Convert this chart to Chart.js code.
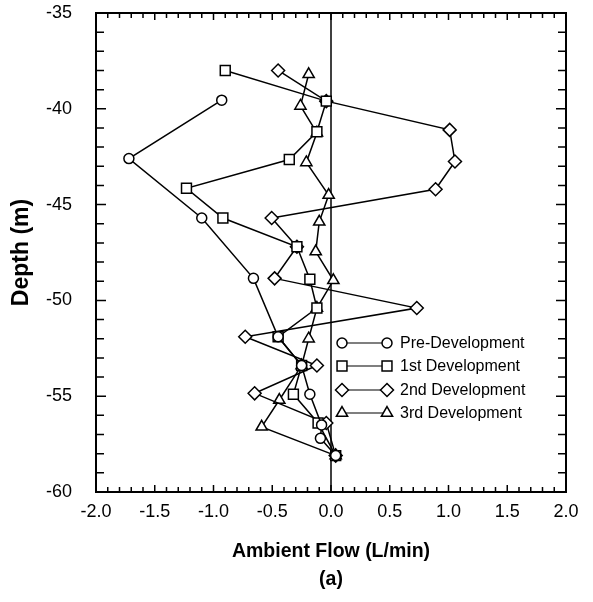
<!DOCTYPE html>
<html>
<head>
<meta charset="utf-8">
<script src="https://cdn.jsdelivr.net/npm/chart.js@4"></script>
<style>
  body { margin: 0; background: #fff; }
  #wrap { width: 593px; height: 602px; }
</style>
</head>
<body>
<div id="wrap"><canvas id="grafico"></canvas></div>
<script>
// valori: portata (L/min) e profondita (m)
const preFlow  = [-0.93, -1.72, -1.10, -0.66, -0.45, -0.25, -0.18, -0.08, -0.09, 0.04];
const preDepth = [-39.55, -42.6, -45.7, -48.85, -51.9, -53.4, -54.9, -56.5, -57.2, -58.1];

const firstFlow  = [-0.90, -0.04, -0.12, -0.355, -1.23, -0.92, -0.29, -0.18, -0.12, -0.45, -0.25, -0.32, -0.11, 0.04];
const firstDepth = [-38.0, -39.6, -41.2, -42.65, -44.15, -45.7, -47.2, -48.9, -50.4, -51.9, -53.4, -54.9, -56.4, -58.1];

const secondFlow  = [-0.45, -0.04, 1.01, 1.055, 0.89, -0.505, -0.29, -0.48, 0.73, -0.73, -0.12, -0.65, -0.04, 0.04];
const secondDepth = [-38.0, -39.6, -41.1, -42.75, -44.2, -45.7, -47.2, -48.85, -50.4, -51.9, -53.4, -54.85, -56.4, -58.1];

const thirdFlow  = [-0.19, -0.26, -0.12, -0.21, -0.02, -0.10, -0.13, 0.02, -0.12, -0.19, -0.25, -0.44, -0.59, 0.04];
const thirdDepth = [-38.2, -39.85, -41.25, -42.8, -44.5, -45.9, -47.45, -48.95, -50.4, -52.0, -53.4, -55.2, -56.6, -58.1];

const labels = ['Pre-Development', '1st Development', '2nd Development', '3rd Development'];
const xTicks = [-2, -1.5, -1, -0.5, 0, 0.5, 1, 1.5, 2];
const yTicks = [-60, -55, -50, -45, -40, -35];

const FONT = '"Liberation Sans", Arial, Helvetica, sans-serif';

function punti(xs, ys){
    return xs.map((x, i) => ({ x: x, y: ys[i] }));
}

function serie(label, xs, ys, stile, raggio){
    return {
        label: label,
        data: punti(xs, ys),
        showLine: true,
        borderColor: '#000',
        borderWidth: 1.5,
        pointStyle: stile,
        pointRadius: raggio,
        pointBorderWidth: 1.5,
        pointBackgroundColor: '#fff',
        pointBorderColor: '#000',
        pointHoverRadius: raggio,
        tension: 0
    };
}

// cornice, tacche interne, linea dello zero e legenda
const decorazioni = {
    id: 'decorazioni',
    beforeDatasetsDraw(chart){
        const { ctx, chartArea: a, scales: { x } } = chart;
        ctx.save();
        ctx.strokeStyle = '#000';
        ctx.lineWidth = 1.5;
        const x0 = x.getPixelForValue(0);
        ctx.beginPath();
        ctx.moveTo(x0, a.top);
        ctx.lineTo(x0, a.bottom);
        ctx.stroke();
        ctx.restore();
    },
    afterDraw(chart){
        const { ctx, chartArea: a, scales: { x, y } } = chart;
        ctx.save();
        ctx.strokeStyle = '#000';
        ctx.lineWidth = 1.5;
        for (let i = -20; i <= 20; i++){
            const px = x.getPixelForValue(i / 10);
            const len = (i % 5 === 0) ? 7 : 5;
            ctx.beginPath();
            ctx.moveTo(px, a.top); ctx.lineTo(px, a.top + len);
            ctx.moveTo(px, a.bottom); ctx.lineTo(px, a.bottom - len);
            ctx.stroke();
        }
        for (let v = -60; v <= -35; v++){
            const py = y.getPixelForValue(v);
            const len = (v % 5 === 0) ? 10 : 8;
            ctx.beginPath();
            ctx.moveTo(a.left, py); ctx.lineTo(a.left + len, py);
            ctx.moveTo(a.right, py); ctx.lineTo(a.right - len, py);
            ctx.stroke();
        }
        ctx.lineWidth = 2;
        ctx.strokeRect(a.left, a.top, a.right - a.left, a.bottom - a.top);

        // legenda
        const lx1 = 342, lx2 = 387, tx = 400;
        const righe = [343, 366, 390, 413];
        ctx.font = '16px ' + FONT;
        ctx.textBaseline = 'middle';
        chart.data.datasets.forEach((ds, i) => {
            const ly = righe[i];
            ctx.lineWidth = 1.2;
            ctx.beginPath();
            ctx.moveTo(lx1, ly); ctx.lineTo(lx2, ly);
            ctx.stroke();
            [lx1, lx2].forEach(px => {
                ctx.fillStyle = '#fff';
                ctx.lineWidth = 1.5;
                Chart.helpers.drawPoint(ctx, { pointStyle: ds.pointStyle, radius: ds.pointRadius, rotation: 0, borderWidth: 1.5 }, px, ly);
            });
            ctx.fillStyle = '#000';
            ctx.fillText(ds.label, tx, ly + 1);
        });
        ctx.restore();
    }
};

const config = {
    type: 'scatter',
    data: {
        datasets: [
            serie(labels[0], preFlow, preDepth, 'circle', 5),
            serie(labels[1], firstFlow, firstDepth, 'rect', 7),
            serie(labels[2], secondFlow, secondDepth, 'rectRot', 6.5),
            serie(labels[3], thirdFlow, thirdDepth, 'triangle', 6.5)
        ]
    },
    options: {
        responsive: true,
        maintainAspectRatio: false,
        animation: false,
        events: [],
        layout: { padding: { left: 0, right: 27, top: 13, bottom: 0 } },
        plugins: {
            legend: { display: false },
            tooltip: { enabled: false }
        },
        scales: {
            x: {
                type: 'linear',
                min: -2, max: 2,
                afterBuildTicks(s){ s.ticks = xTicks.map(v => ({ value: v })); },
                afterFit(s){ s.height = 110; s.paddingLeft = 0; s.paddingRight = 0; },
                grid: { display: false, drawTicks: false },
                border: { display: false },
                ticks: {
                    padding: 9,
                    color: '#000',
                    font: { family: FONT, size: 18 },
                    callback: v => Number(v).toFixed(1)
                },
                title: {
                    display: true,
                    text: ['Ambient Flow (L/min)', '(a)'],
                    color: '#000',
                    font: { family: FONT, size: 19.5, weight: 'bold', lineHeight: '28px' },
                    padding: { top: 0, bottom: 8 }
                }
            },
            y: {
                type: 'linear',
                min: -60, max: -35,
                afterBuildTicks(s){ s.ticks = yTicks.map(v => ({ value: v })); },
                afterFit(s){ s.width = 96; s.paddingTop = 0; s.paddingBottom = 0; },
                grid: { display: false, drawTicks: false },
                border: { display: false },
                ticks: {
                    padding: 24,
                    color: '#000',
                    font: { family: FONT, size: 18 },
                    callback: v => String(v)
                },
                title: {
                    display: true,
                    text: 'Depth (m)',
                    color: '#000',
                    font: { family: FONT, size: 23, weight: 'bold' },
                    padding: { top: 8, bottom: 0 }
                }
            }
        }
    },
    plugins: [decorazioni]
};

new Chart(document.getElementById('grafico'), config);
</script>
</body>
</html>
